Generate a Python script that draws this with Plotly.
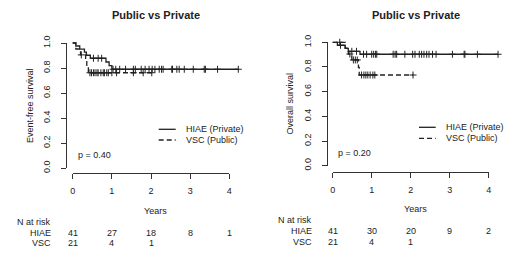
import numpy as np
import plotly.graph_objects as go

W, H = 520, 265

# ---------------- data ----------------
years = [0, 1, 2, 3, 4]
yticks = [0.0, 0.2, 0.4, 0.6, 0.8, 1.0]
ytick_labels = ["0.0", "0.2", "0.4", "0.6", "0.8", "1.0"]
group_names = ["HIAE", "VSC"]
legend_labels = ["HIAE (Private)", "VSC (Public)"]
titles = ["Public vs Private", "Public vs Private"]
ylabels = ["Event-free survival", "Overall survival"]
pvalues = ["p = 0.40", "p = 0.20"]

# Event-free survival (step times / survival levels, censor times)
efs_hiae_t = [0.00, 0.08, 0.18, 0.30, 0.35, 0.45, 0.85, 0.93, 1.00]
efs_hiae_s = [1.000, 0.976, 0.951, 0.927, 0.902, 0.878, 0.848, 0.819, 0.790]
efs_hiae_c = [0.53, 0.65, 0.74, 1.03, 1.10, 1.20, 1.35, 1.55, 1.60, 1.75, 1.85,
              1.95, 2.03, 2.10, 2.21, 2.27, 2.31, 2.53, 2.55, 2.66, 2.72, 2.85,
              3.08, 3.36, 3.39, 3.70, 4.23]
efs_vsc_t = [0.00, 0.08, 0.20, 0.33, 0.36, 0.40]
efs_vsc_s = [1.000, 0.952, 0.905, 0.857, 0.810, 0.762]
efs_vsc_c = [0.22, 0.44, 0.48, 0.53, 0.57, 0.62, 0.65, 0.72, 0.78, 0.81, 0.87,
             0.91, 1.00, 1.12, 1.55, 1.80, 2.02]

# Overall survival
os_hiae_t = [0.00, 0.12, 0.32, 0.40, 0.70]
os_hiae_s = [1.000, 0.976, 0.951, 0.927, 0.903]
os_hiae_c = [0.20, 0.49, 0.61, 0.79, 0.87, 1.00, 1.05, 1.10, 1.13, 1.55, 1.60,
             1.64, 1.85, 2.05, 2.11, 2.22, 2.28, 2.34, 2.41, 2.47, 2.56, 2.65,
             3.07, 3.37, 3.39, 3.71, 4.24]
os_vsc_t = [0.00, 0.32, 0.40, 0.49, 0.66, 0.68]
os_vsc_s = [1.000, 0.952, 0.905, 0.857, 0.796, 0.735]
os_vsc_c = [0.18, 0.44, 0.53, 0.58, 0.63, 0.74, 0.80, 0.85, 0.90, 0.96, 1.03,
            1.08, 2.06]

# numbers at risk
efs_risk_hiae = [41, 27, 18, 8, 1]
efs_risk_vsc = [21, 4, 1]
os_risk_hiae = [41, 30, 20, 9, 2]
os_risk_vsc = [21, 4, 1]

# ---------------- styling / geometry ----------------
FONT = "Liberation Sans, Arial, Helvetica, sans-serif"
INK = "#222222"
AX = "#333333"

def fx(px):
    return px / W

def fy(py):
    return 1 - py / H

panels = [
    dict(x0=72.7, x4=229.3, y1=43.0, y0=168.0, yline=65.7, xline=172.7,
         title_xy=(155.5, 15.5), ylab_x=29.5, years_xy=(155.5, 211.0),
         nrisk_y=(222.3, 232.7, 243.3), leg_y=(129.3, 140.0), leg_x=(158.7, 175.7, 183.5),
         p_xy=(76.0, 155.0)),
    dict(x0=332.7, x4=488.7, y1=42.3, y0=165.7, yline=326.7, xline=171.7,
         title_xy=(415.5, 15.0), ylab_x=289.5, years_xy=(415.0, 209.3),
         nrisk_y=(220.0, 230.7, 242.0), leg_y=(127.3, 138.3), leg_x=(419.0, 435.7, 443.5),
         p_xy=(336.0, 153.3)),
]

curves = [
    [(efs_hiae_t, efs_hiae_s, efs_hiae_c, "solid"), (efs_vsc_t, efs_vsc_s, efs_vsc_c, "5px,3px")],
    [(os_hiae_t, os_hiae_s, os_hiae_c, "solid"), (os_vsc_t, os_vsc_s, os_vsc_c, "5px,3px")],
]
risks = [[efs_risk_hiae, efs_risk_vsc], [os_risk_hiae, os_risk_vsc]]

fig = go.Figure()
layout = dict(
    width=W, height=H, margin=dict(l=0, r=0, t=0, b=0, pad=0, autoexpand=False),
    paper_bgcolor="white", plot_bgcolor="rgba(0,0,0,0)",
    showlegend=False, font=dict(family=FONT, size=9, color=INK),
)
annotations = []
shapes = []

for i, g in enumerate(panels):
    dx = "x" if i == 0 else "x2"
    dy = "y" if i == 0 else "y2"
    vx = "x3" if i == 0 else "x4"
    vy = "y3" if i == 0 else "y4"
    sx = (g["x4"] - g["x0"]) / 4.0
    sy = g["y0"] - g["y1"]

    # data axes (invisible), consistent with the display axes
    dpx = (g["x0"] - 14, g["x4"] + 24)
    dpy = (g["y1"] - 8, g["y0"] + 6)
    layout["xaxis" + ("" if i == 0 else "2")] = dict(
        domain=[fx(dpx[0]), fx(dpx[1])],
        range=[(dpx[0] - g["x0"]) / sx, (dpx[1] - g["x0"]) / sx],
        visible=False, anchor=dy, automargin=False)
    layout["yaxis" + ("" if i == 0 else "2")] = dict(
        domain=[fy(dpy[1]), fy(dpy[0])],
        range=[(g["y0"] - dpy[1]) / sy, (g["y0"] - dpy[0]) / sy],
        visible=False, anchor=dx, automargin=False)

    # display axes (R style, detached)
    common = dict(showline=True, linecolor=AX, linewidth=1, ticks="outside",
                  ticklen=5, tickwidth=1, tickcolor=AX, showgrid=False,
                  zeroline=False, automargin=False,
                  tickfont=dict(family=FONT, size=9, color=INK))
    layout["xaxis" + ("3" if i == 0 else "4")] = dict(
        domain=[fx(g["x0"]), fx(g["x4"])], range=[0, 4],
        tickvals=years, ticktext=[str(v) for v in years],
        anchor="free", position=fy(g["xline"]), ticklabelstandoff=4, **common)
    layout["yaxis" + ("3" if i == 0 else "4")] = dict(
        domain=[fy(g["y0"]), fy(g["y1"])], range=[0, 1],
        tickvals=yticks, ticktext=ytick_labels, tickangle=-90,
        anchor="free", position=fx(g["yline"]), ticklabelstandoff=7, **common)

    fig.add_trace(go.Scatter(x=[0, 4], y=[0, 1], xaxis=vx, yaxis=vy, mode="markers",
                             marker=dict(opacity=0), hoverinfo="skip"))

    for (t, s, c, dash) in curves[i]:
        t = np.asarray(t, float)
        s = np.asarray(s, float)
        c = np.asarray(c, float)
        end = max(t.max(), c.max())
        xs = np.append(t, end)
        ys = np.append(s, s[-1])
        fig.add_trace(go.Scatter(x=xs, y=ys, xaxis=dx, yaxis=dy, mode="lines",
                                 line=dict(shape="hv", color=INK, width=1.3, dash=dash),
                                 hoverinfo="skip"))
        cy = s[np.searchsorted(t, c, side="right") - 1]
        fig.add_trace(go.Scatter(x=c, y=cy, xaxis=dx, yaxis=dy, mode="markers",
                                 marker=dict(symbol="cross-thin-open", size=5, color=INK,
                                             line=dict(color=INK, width=1)),
                                 hoverinfo="skip"))

    # texts
    annotations.append(dict(text="<b>%s</b>" % titles[i], x=fx(g["title_xy"][0]), y=fy(g["title_xy"][1]),
                            xref="paper", yref="paper", showarrow=False,
                            font=dict(size=11, color=INK), xanchor="center", yanchor="middle"))
    annotations.append(dict(text=ylabels[i], x=fx(g["ylab_x"]), y=fy((g["y0"] + g["y1"]) / 2),
                            xref="paper", yref="paper", showarrow=False, textangle=-90,
                            font=dict(size=9, color=INK), xanchor="center", yanchor="middle"))
    annotations.append(dict(text="Years", x=fx(g["years_xy"][0]), y=fy(g["years_xy"][1]),
                            xref="paper", yref="paper", showarrow=False,
                            font=dict(size=9, color=INK), xanchor="center", yanchor="middle"))
    annotations.append(dict(text=pvalues[i], x=fx(g["p_xy"][0]), y=fy(g["p_xy"][1]),
                            xref="paper", yref="paper", showarrow=False,
                            font=dict(size=9, color=INK), xanchor="left", yanchor="middle"))
    # risk table
    annotations.append(dict(text="N at risk", x=fx(g["yline"] - 13), y=fy(g["nrisk_y"][0]),
                            xref="paper", yref="paper", showarrow=False,
                            font=dict(size=9, color=INK), xanchor="right", yanchor="middle"))
    for k, name in enumerate(group_names):
        annotations.append(dict(text=name, x=fx(g["yline"] - 13), y=fy(g["nrisk_y"][k + 1]),
                                xref="paper", yref="paper", showarrow=False,
                                font=dict(size=9, color=INK), xanchor="right", yanchor="middle"))
        for yr, n in zip(years, risks[i][k]):
            annotations.append(dict(text=str(n), x=yr, y=fy(g["nrisk_y"][k + 1]),
                                    xref=vx, yref="paper", showarrow=False,
                                    font=dict(size=9, color=INK), xanchor="center", yanchor="middle"))
    # legend
    for k, (lab, dash) in enumerate(zip(legend_labels, ["solid", "dash"])):
        ly = fy(g["leg_y"][k])
        shapes.append(dict(type="line", xref="paper", yref="paper",
                           x0=fx(g["leg_x"][0]), x1=fx(g["leg_x"][1]), y0=ly, y1=ly,
                           line=dict(color=INK, width=1.3, dash="5px,3px" if dash == "dash" else "solid")))
        annotations.append(dict(text=lab, x=fx(g["leg_x"][2]), y=ly, xref="paper", yref="paper",
                                showarrow=False, font=dict(size=9, color=INK),
                                xanchor="left", yanchor="middle"))

layout["annotations"] = annotations
layout["shapes"] = shapes
fig.update_layout(**layout)
fig.write_html("out.html",
               config={"displayModeBar": False, "staticPlot": True},
               post_script="document.body.style.margin='0';document.body.style.overflow='hidden';")
